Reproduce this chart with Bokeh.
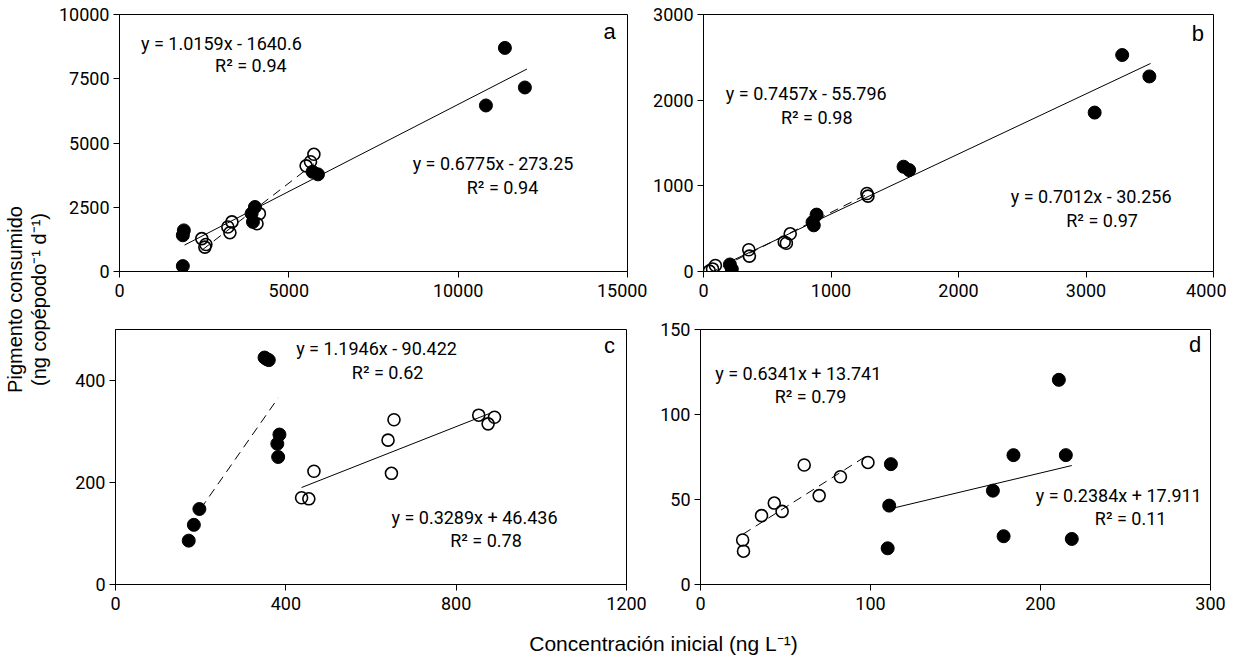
import math
from bokeh.plotting import figure
from bokeh.models import Range1d, FixedTicker
from bokeh.layouts import row, column
from bokeh.embed import file_html
from bokeh.resources import INLINE
from bokeh.core.properties import value

NARROW = "Roboto, 'Liberation Sans', sans-serif"
REG = "'Liberation Sans', Arial, sans-serif"

# ---------------- data ----------------
# panel a
a_open_x = [5740, 5640, 5510, 4130, 4060, 3320, 3200, 3260, 2430, 2520, 2550]
a_open_y = [4560, 4270, 4110, 2250, 1860, 1930, 1730, 1510, 1280, 950, 1050]
a_fill_x = [11380, 11970, 10820, 5860, 5700, 4000, 3900, 3940, 1900, 1870, 1870]
a_fill_y = [8700, 7160, 6460, 3780, 3880, 2510, 2250, 1930, 1600, 1410, 210]
a_xticks = [0, 5000, 10000, 15000]
a_yticks = [0, 2500, 5000, 7500, 10000]
a_open_fit = [1.0159, -1640.6]
a_fill_fit = [0.6775, -273.25]
a_open_fit_x = [2430, 5740]
a_fill_fit_x = [1920, 12030]
a_open_eq = ["y = 1.0159x - 1640.6", "R\u00b2 = 0.94"]
a_fill_eq = ["y = 0.6775x - 273.25", "R\u00b2 = 0.94"]

# panel b
b_open_x = [1282, 1290, 680, 633, 650, 355, 360, 93, 71, 46]
b_open_y = [910, 880, 440, 344, 330, 254, 180, 70, 30, 4]
b_fill_x = [3284, 3497, 3068, 1569, 1613, 887, 865, 855, 207, 222]
b_fill_y = [2527, 2277, 1855, 1223, 1184, 664, 539, 575, 82, 27]
b_xticks = [0, 1000, 2000, 3000, 4000]
b_yticks = [0, 1000, 2000, 3000]
b_open_fit = [0.7457, -55.796]
b_fill_fit = [0.7012, -30.256]
b_open_fit_x = [46, 1290]
b_fill_fit_x = [200, 3506]
b_open_eq = ["y = 0.7457x - 55.796", "R\u00b2 = 0.98"]
b_fill_eq = ["y = 0.7012x - 30.256", "R\u00b2 = 0.97"]

# panel c
c_open_x = [853, 890, 875, 654, 640, 648, 466, 437, 454]
c_open_y = [332, 328, 315, 323, 283, 218, 222, 170, 168]
c_fill_x = [350, 360, 355, 385, 380, 382, 197, 184, 172]
c_fill_y = [445, 440, 442, 294, 276, 250, 148, 117, 86]
c_xticks = [0, 400, 800, 1200]
c_yticks = [0, 200, 400]
c_open_fit = [0.3289, 46.436]
c_fill_fit = [1.1946, -90.422]
c_open_fit_x = [437, 878]
c_fill_fit_x = [200, 382]
c_fill_eq = ["y = 1.1946x - 90.422", "R\u00b2 = 0.62"]
c_open_eq = ["y = 0.3289x + 46.436", "R\u00b2 = 0.78"]

# panel d
d_open_x = [24.8, 25.3, 35.9, 43.4, 48, 61, 69.8, 82.3, 98.5]
d_open_y = [26.2, 19.6, 40.5, 47.9, 43, 70.3, 52.3, 63.4, 71.8]
d_fill_x = [210.8, 184.1, 214.9, 112, 111, 110.1, 172, 178.3, 218.4]
d_fill_y = [120.4, 76.1, 76.1, 70.8, 46.4, 21.3, 55.2, 28.4, 26.8]
d_xticks = [0, 100, 200, 300]
d_yticks = [0, 50, 100, 150]
d_open_fit = [0.6341, 13.741]
d_fill_fit = [0.2384, 17.911]
d_open_fit_x = [25, 99]
d_fill_fit_x = [111, 218.4]
d_open_eq = ["y = 0.6341x + 13.741", "R\u00b2 = 0.79"]
d_fill_eq = ["y = 0.2384x + 17.911", "R\u00b2 = 0.11"]

panel_letters = ["a", "b", "c", "d"]
y_label = ["Pigmento consumido", "(ng cop\u00e9podo\u207b\u00b9 d\u207b\u00b9)"]
x_label = "Concentraci\u00f3n inicial (ng L\u207b\u00b9)"

TICK_SIZE = "18px"
ANN_SIZE = "18px"
DASH = "9 6"


def make_panel(w_frame, h_frame, bl, br, bt, bb, xr, yr, xt, yt):
    p = figure(width=bl + w_frame + br, height=bt + h_frame + bb,
               x_range=Range1d(*xr), y_range=Range1d(*yr),
               output_backend="svg", toolbar_location=None,
               min_border_left=bl, min_border_right=br,
               min_border_top=bt, min_border_bottom=bb)
    p.xgrid.visible = False
    p.ygrid.visible = False
    p.outline_line_color = "black"
    p.outline_line_width = 1
    p.outline_line_alpha = 1
    p.background_fill_color = "white"
    p.border_fill_color = "white"
    for ax, t, so in ((p.xaxis[0], xt, 6), (p.yaxis[0], yt, 4)):
        ax.ticker = FixedTicker(ticks=t)
        ax.major_tick_out = 6
        ax.major_tick_in = 0
        ax.minor_tick_line_color = None
        ax.axis_line_color = "black"
        ax.major_tick_line_color = "black"
        ax.major_label_text_font = NARROW
        ax.major_label_text_font_size = TICK_SIZE
        ax.major_label_text_color = "black"
        ax.major_label_standoff = so
    return p


def fit_line(p, coef, xs, dash):
    m, b = coef
    p.line(x=xs, y=[m * xs[0] + b, m * xs[1] + b], line_color="black",
           line_width=1, line_dash=dash)


def points(p, ox, oy, fx, fy):
    p.scatter(x=fx, y=fy, size=13, marker="circle", fill_color="black",
              line_color="black", line_width=1)
    p.scatter(x=ox, y=oy, size=12, marker="circle", fill_alpha=0,
              line_color="black", line_width=1.6)


def ann(p, txt, x, y, size=ANN_SIZE, font=NARROW):
    p.text(x=[x], y=[y], text=[txt], text_font=value(font),
           text_font_size=size, text_align="center",
           text_baseline="middle", text_color="black")


# panel a
pa = make_panel(512, 257, 60, 20, 14, 38, (0, 15000), (0, 10000), a_xticks, a_yticks)
fit_line(pa, a_open_fit, a_open_fit_x, DASH)
fit_line(pa, a_fill_fit, a_fill_fit_x, "solid")
points(pa, a_open_x, a_open_y, a_fill_x, a_fill_y)
ann(pa, a_open_eq[0], 3010, 8890)
ann(pa, a_open_eq[1], 3880, 8020)
ann(pa, a_fill_eq[0], 11030, 4210)
ann(pa, a_fill_eq[1], 11310, 3260)
ann(pa, panel_letters[0], 14470, 9320, size="22px", font=REG)

# panel b
pb = make_panel(510, 257, 56, 13, 14, 38, (0, 4000), (0, 3000), b_xticks, b_yticks)
fit_line(pb, b_open_fit, b_open_fit_x, DASH)
fit_line(pb, b_fill_fit, b_fill_fit_x, "solid")
points(pb, b_open_x, b_open_y, b_fill_x, b_fill_y)
ann(pb, b_open_eq[0], 806, 2082)
ann(pb, b_open_eq[1], 888, 1800)
ann(pb, b_fill_eq[0], 3040, 871)
ann(pb, b_fill_eq[1], 3126, 598)
ann(pb, panel_letters[1], 3877, 2777, size="22px", font=REG)

# panel c
pc = make_panel(511, 255, 60, 21, 20, 38, (0, 1200), (0, 500), c_xticks, c_yticks)
fit_line(pc, c_fill_fit, c_fill_fit_x, DASH)
fit_line(pc, c_open_fit, c_open_fit_x, "solid")
points(pc, c_open_x, c_open_y, c_fill_x, c_fill_y)
ann(pc, c_fill_eq[0], 613, 463)
ann(pc, c_fill_eq[1], 639, 416)
ann(pc, c_open_eq[0], 843, 131)
ann(pc, c_open_eq[1], 870, 86)
ann(pc, panel_letters[2], 1160, 468, size="22px", font=REG)

# panel d
pd_ = make_panel(510, 255, 53, 16, 20, 38, (0, 300), (0, 150), d_xticks, d_yticks)
fit_line(pd_, d_open_fit, d_open_fit_x, DASH)
fit_line(pd_, d_fill_fit, d_fill_fit_x, "solid")
points(pd_, d_open_x, d_open_y, d_fill_x, d_fill_y)
ann(pd_, d_open_eq[0], 57.5, 124.3)
ann(pd_, d_open_eq[1], 64.7, 110.6)
ann(pd_, d_fill_eq[0], 246, 52.3)
ann(pd_, d_fill_eq[1], 253, 38.6)
ann(pd_, panel_letters[3], 291, 141.3, size="22px", font=REG)

# y label figure
LW, LH = 55, 622
pl = figure(width=LW, height=LH, x_range=Range1d(0, LW), y_range=Range1d(0, LH),
            output_backend="svg", toolbar_location=None, min_border=0,
            x_axis_location=None, y_axis_location=None)
pl.xgrid.visible = False
pl.ygrid.visible = False
pl.outline_line_color = None
pl.text(x=[14, 38], y=[323, 323], text=y_label, text_font=value(REG),
        text_font_size="20px", text_align="center", text_baseline="middle",
        angle=math.pi / 2, text_color="black")

# x label figure
XW, XH = 1226, 35
px = figure(width=XW, height=XH, x_range=Range1d(0, XW), y_range=Range1d(0, XH),
            output_backend="svg", toolbar_location=None, min_border=0,
            x_axis_location=None, y_axis_location=None)
px.xgrid.visible = False
px.ygrid.visible = False
px.outline_line_color = None
px.text(x=[663], y=[14], text=[x_label], text_font=value(REG),
        text_font_size="21px", text_align="center", text_baseline="middle",
        text_color="black")

layout = column(row(pl, column(row(pa, pb), row(pc, pd_))), px)

open("out.html", "w").write(file_html(layout, INLINE))
